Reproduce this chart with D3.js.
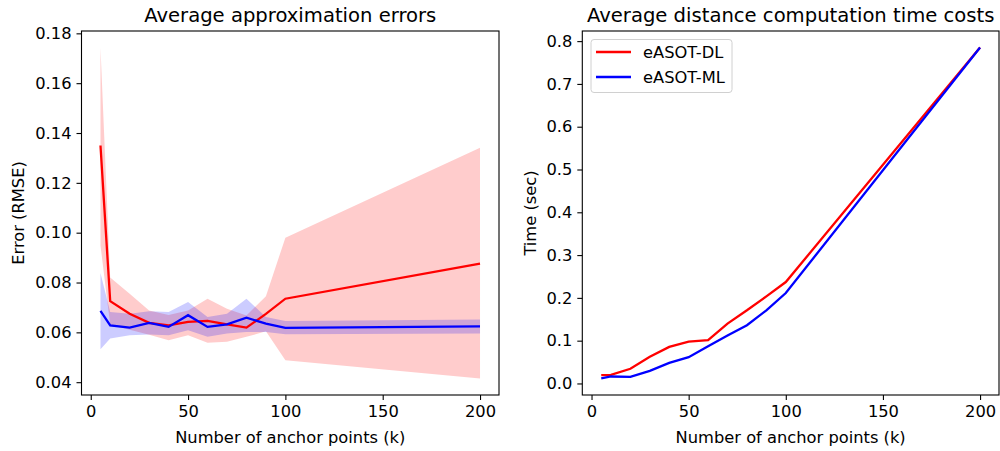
<html>
<head>
<meta charset="utf-8">
<script src="https://d3js.org/d3.v7.min.js"></script>
<style>
  body { margin: 0; background: #fff; }
  text { font-family: "DejaVu Sans", sans-serif; fill: #000; }
</style>
</head>
<body>
<div id="chart"></div>
<script>
// anchor point counts (k)
var kValues = [5, 10, 20, 30, 40, 50, 60, 70, 80, 90, 100, 200];

// left panel: RMSE mean and band
var dlErr   = [0.1350, 0.0725, 0.0675, 0.0638, 0.0628, 0.0642, 0.0646, 0.0632, 0.0619, 0.0674, 0.0735, 0.0876];
var dlErrHi = [0.1743, 0.0820, 0.0755, 0.0688, 0.0670, 0.0688, 0.0735, 0.0695, 0.0668, 0.0745, 0.0980, 0.1341];
var dlErrLo = [0.0949, 0.0630, 0.0610, 0.0590, 0.0568, 0.0588, 0.0558, 0.0562, 0.0582, 0.0604, 0.0488, 0.0415];
var mlErr   = [0.0686, 0.0628, 0.0619, 0.0638, 0.0622, 0.0669, 0.0622, 0.0632, 0.0659, 0.0635, 0.0618, 0.0624];
var mlErrHi = [0.0838, 0.0682, 0.0675, 0.0685, 0.0682, 0.0722, 0.0662, 0.0675, 0.0735, 0.0662, 0.0646, 0.0652];
var mlErrLo = [0.0532, 0.0575, 0.0588, 0.0591, 0.0588, 0.0608, 0.0582, 0.0595, 0.0601, 0.0601, 0.0592, 0.0595];

// right panel: time (sec)
var dlTime = [0.0194, 0.0202, 0.0343, 0.0622, 0.0855, 0.0979, 0.1010, 0.1400, 0.1710, 0.2035, 0.2370, 0.7850];
var mlTime = [0.0117, 0.0163, 0.0155, 0.0296, 0.0480, 0.0614, 0.0870, 0.1120, 0.1360, 0.1710, 0.2114, 0.7850];

var seriesNames = ["eASOT-DL", "eASOT-ML"];
var seriesColors = ["#ff0000", "#0000ff"];
var errTicks = [0.04, 0.06, 0.08, 0.10, 0.12, 0.14, 0.16, 0.18];
var timeTicks = [0, 0.1, 0.2, 0.3, 0.4, 0.5, 0.6, 0.7, 0.8];
var kTicks = [0, 50, 100, 150, 200];

var W = 1000, H = 451;
var FS = "16.3px", TFS = "19.6px";
var svg = d3.select("#chart").append("svg")
  .attr("width", W).attr("height", H);

// matplotlib-like 5% margins
function padded(lo, hi) {
  var p = (hi - lo) * 0.05;
  return [lo - p, hi + p];
}

function panel(box, yDomain, yTicks, yFmt, title, yLabel, labelOff) {
  var x = d3.scaleLinear().domain(padded(d3.min(kValues), d3.max(kValues)))
    .range([box.x0, box.x1]);
  var y = d3.scaleLinear().domain(yDomain).range([box.y1, box.y0]);
  var g = svg.append("g");

  var clip = "clip" + Math.round(box.x0);
  svg.append("clipPath").attr("id", clip).append("rect")
    .attr("x", box.x0).attr("y", box.y0)
    .attr("width", box.x1 - box.x0).attr("height", box.y1 - box.y0);
  var plot = g.append("g").attr("clip-path", "url(#" + clip + ")");

  // x axis
  var xa = g.append("g").attr("transform", "translate(0," + box.y1 + ")")
    .call(d3.axisBottom(x).tickValues(kTicks).tickSize(5).tickPadding(5));
  // y axis
  var ya = g.append("g").attr("transform", "translate(" + box.x0 + ",0)")
    .call(d3.axisLeft(y).tickValues(yTicks).tickFormat(d3.format(yFmt)).tickSize(5).tickPadding(5));
  [xa, ya].forEach(function (a) {
    a.select(".domain").remove();
    a.selectAll("line").attr("stroke", "#000").attr("stroke-width", 1.1);
    a.selectAll("text").style("font-size", FS).attr("fill", "#000");
  });

  g.append("rect").attr("x", box.x0).attr("y", box.y0)
    .attr("width", box.x1 - box.x0).attr("height", box.y1 - box.y0)
    .attr("fill", "none").attr("stroke", "#000").attr("stroke-width", 1.1);

  g.append("text").attr("x", (box.x0 + box.x1) / 2).attr("y", 22)
    .attr("text-anchor", "middle").style("font-size", TFS).text(title);
  g.append("text").attr("x", (box.x0 + box.x1) / 2).attr("y", 443)
    .attr("text-anchor", "middle").style("font-size", FS)
    .text("Number of anchor points (k)");
  g.append("text")
    .attr("transform", "translate(" + (box.x0 - labelOff) + "," + ((box.y0 + box.y1) / 2) + ") rotate(-90)")
    .attr("text-anchor", "middle").style("font-size", FS).text(yLabel);

  return { x: x, y: y, plot: plot };
}

// ---- left: approximation errors
var left = panel({ x0: 81.5, x1: 499, y0: 31, y1: 395 },
  padded(d3.min(dlErrLo.concat(mlErrLo)), d3.max(dlErrHi.concat(mlErrHi))),
  errTicks, ".2f", "Average approximation errors", "Error (RMSE)", 58);

var bands = [[dlErrLo, dlErrHi], [mlErrLo, mlErrHi]];
var means = [dlErr, mlErr];
bands.forEach(function (b, s) {
  var area = d3.area()
    .x(function (d, i) { return left.x(kValues[i]); })
    .y0(function (d, i) { return left.y(b[0][i]); })
    .y1(function (d, i) { return left.y(b[1][i]); });
  left.plot.append("path").datum(kValues).attr("d", area)
    .attr("fill", seriesColors[s]).attr("fill-opacity", 0.2);
});
means.forEach(function (m, s) {
  var line = d3.line()
    .x(function (d, i) { return left.x(kValues[i]); })
    .y(function (d) { return left.y(d); });
  left.plot.append("path").datum(m).attr("d", line)
    .attr("fill", "none").attr("stroke", seriesColors[s]).attr("stroke-width", 2.3);
});

// ---- right: time costs
var right = panel({ x0: 582.3, x1: 999, y0: 31, y1: 395 },
  padded(d3.min(dlTime.concat(mlTime)), d3.max(dlTime.concat(mlTime))),
  timeTicks, ".1f", "Average distance computation time costs", "Time (sec)", 46);

[dlTime, mlTime].forEach(function (t, s) {
  var line = d3.line()
    .x(function (d, i) { return right.x(kValues[i]); })
    .y(function (d) { return right.y(d); });
  right.plot.append("path").datum(t).attr("d", line)
    .attr("fill", "none").attr("stroke", seriesColors[s]).attr("stroke-width", 2.3);
});

// legend
var lg = svg.append("g").attr("transform", "translate(591,39.5)");
lg.append("rect").attr("width", 141).attr("height", 53).attr("rx", 3)
  .attr("fill", "#fff").attr("fill-opacity", 0.8)
  .attr("stroke", "#d0d0d0").attr("stroke-width", 1);
seriesNames.forEach(function (n, i) {
  var yy = 12.5 + i * 25;
  lg.append("line").attr("x1", 5).attr("x2", 40).attr("y1", yy).attr("y2", yy)
    .attr("stroke", seriesColors[i]).attr("stroke-width", 2.3);
  lg.append("text").attr("x", 52).attr("y", yy + 6)
    .style("font-size", FS).text(n);
});
</script>
</body>
</html>
